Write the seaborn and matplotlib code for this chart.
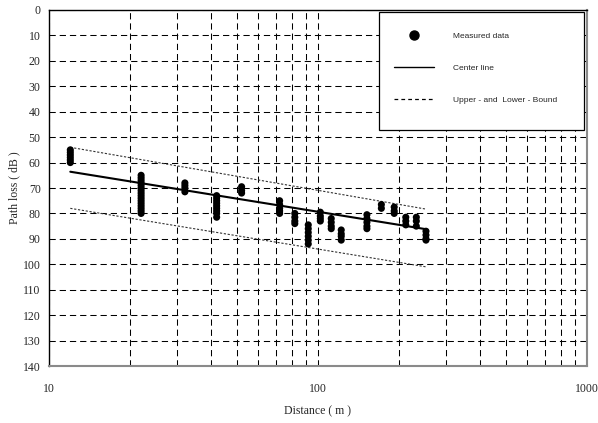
import matplotlib
matplotlib.use("Agg")
import matplotlib.pyplot as plt
import seaborn as sns
import pandas as pd
from matplotlib.lines import Line2D
from matplotlib.patches import Rectangle
from matplotlib.ticker import LogLocator, FixedLocator, NullFormatter

# ---- data ----
distances = [12, 22, 32, 42, 52, 72, 82, 92, 102, 112, 122, 152, 172, 192, 212, 232, 252]
path_loss = [
    [55, 56, 57, 58, 59, 60],
    [65, 66, 67, 68, 69, 70, 71, 72, 73, 74, 75, 76, 77, 78, 79, 80],
    [68, 69, 70, 71.5],
    [73, 74, 75, 76, 77, 78, 79, 80, 81.5],
    [69.5, 71, 72],
    [75, 76.5, 78, 79, 80],
    [80, 81.5, 83, 84],
    [84.5, 86, 87.5, 89, 90.5, 92],
    [79.5, 81, 82, 83],
    [82, 83.5, 85, 86],
    [86.5, 88, 89, 90.5],
    [80.5, 82, 83.5, 85, 86],
    [76.5, 78],
    [77.5, 79, 80],
    [81.5, 83, 84.5],
    [81.5, 83, 85],
    [87, 88.5, 90, 90.5],
]
line_d = [12, 252]
center_line = [63.6, 86.2]
upper_bound = [54.0, 78.3]
lower_bound = [78.0, 101.0]
y_ticks = list(range(0, 141, 10))
x_ticks = [10, 100, 1000]

rows = [(d, v) for d, vals in zip(distances, path_loss) for v in vals]
df = pd.DataFrame(rows, columns=["Distance", "PathLoss"])
lines_df = pd.DataFrame({"Distance": line_d, "center": center_line,
                         "upper": upper_bound, "lower": lower_bound})

sns.set_style("white")
serif = ["Liberation Serif", "DejaVu Serif"]
sans = ["Liberation Sans", "DejaVu Sans"]

fig = plt.figure(figsize=(5.98, 4.23), dpi=100)
ax = fig.add_axes([49/598, 1 - 366/423, (587-49)/598, (366-10)/423])

sns.scatterplot(data=df, x="Distance", y="PathLoss", ax=ax, color="black",
                s=26, marker="o", edgecolor="none", linewidth=0, zorder=4, legend=False)
sns.lineplot(data=lines_df, x="Distance", y="center", ax=ax, color="black",
             linewidth=1.5, zorder=3, legend=False)
for col in ["upper", "lower"]:
    sns.lineplot(data=lines_df, x="Distance", y=col, ax=ax, color="#333333",
                 linewidth=0.8, linestyle=(0, (2, 1.5)), zorder=3, legend=False)

ax.set_xscale("log")
ax.set_xlim(10, 1000)
ax.set_ylim(140, 0)
ax.xaxis.set_major_locator(FixedLocator(x_ticks))
ax.set_xticklabels([str(t) for t in x_ticks])
ax.xaxis.set_minor_locator(LogLocator(base=10, subs=range(2, 10)))
ax.xaxis.set_minor_formatter(NullFormatter())
ax.set_yticks(y_ticks)
ax.set_yticklabels([str(t) for t in y_ticks])

grid_kw = dict(color="black", linewidth=0.75, linestyle=(0, (6, 3.8)))
ax.grid(True, which="major", axis="both", **grid_kw)
ax.grid(True, which="minor", axis="x", **grid_kw)
ax.set_axisbelow(True)

ax.tick_params(axis="both", which="both", length=0)
ax.tick_params(axis="y", pad=6)
ax.tick_params(axis="x", pad=12)
for lab in ax.get_xticklabels() + ax.get_yticklabels():
    lab.set_fontfamily(serif)
    lab.set_fontsize(8.5)

ax.set_xlabel("Distance ( m )", fontfamily=serif, fontsize=8.5, labelpad=8)
ax.set_ylabel("Path loss ( dB )", fontfamily=serif, fontsize=8.5, labelpad=2)

for s in ["left", "top"]:
    ax.spines[s].set_color("black")
    ax.spines[s].set_linewidth(1.0)
for s in ["bottom", "right"]:
    ax.spines[s].set_color("#8a8a8a")
    ax.spines[s].set_linewidth(1.5)

# legend frame
x0 = (379-49)/538
x1 = (584-49)/538
ytop = (366-12)/356
ybot = (366-130)/356
ax.add_patch(Rectangle((x0, ybot), x1-x0, ytop-ybot, transform=ax.transAxes,
                       facecolor="white", edgecolor="black", linewidth=0.9, zorder=5))

handles = [
    Line2D([], [], linestyle="none", marker="o", color="black", markersize=6.5),
    Line2D([], [], color="black", linewidth=1.0),
    Line2D([], [], color="black", linewidth=0.9, linestyle=(0, (3, 2.5))),
]
labels = ["Measured data", "Center line", "Upper - and  Lower - Bound"]
leg = ax.legend(handles, labels, loc="upper left",
                bbox_to_anchor=(x0 + 0.006, ytop - 0.025), frameon=False,
                prop={"family": sans, "size": 6}, handlelength=4.8,
                handletextpad=2.3, labelspacing=2.9, borderaxespad=0, borderpad=1.4)
leg.set_zorder(6)

fig.savefig("out.png", dpi=100)
